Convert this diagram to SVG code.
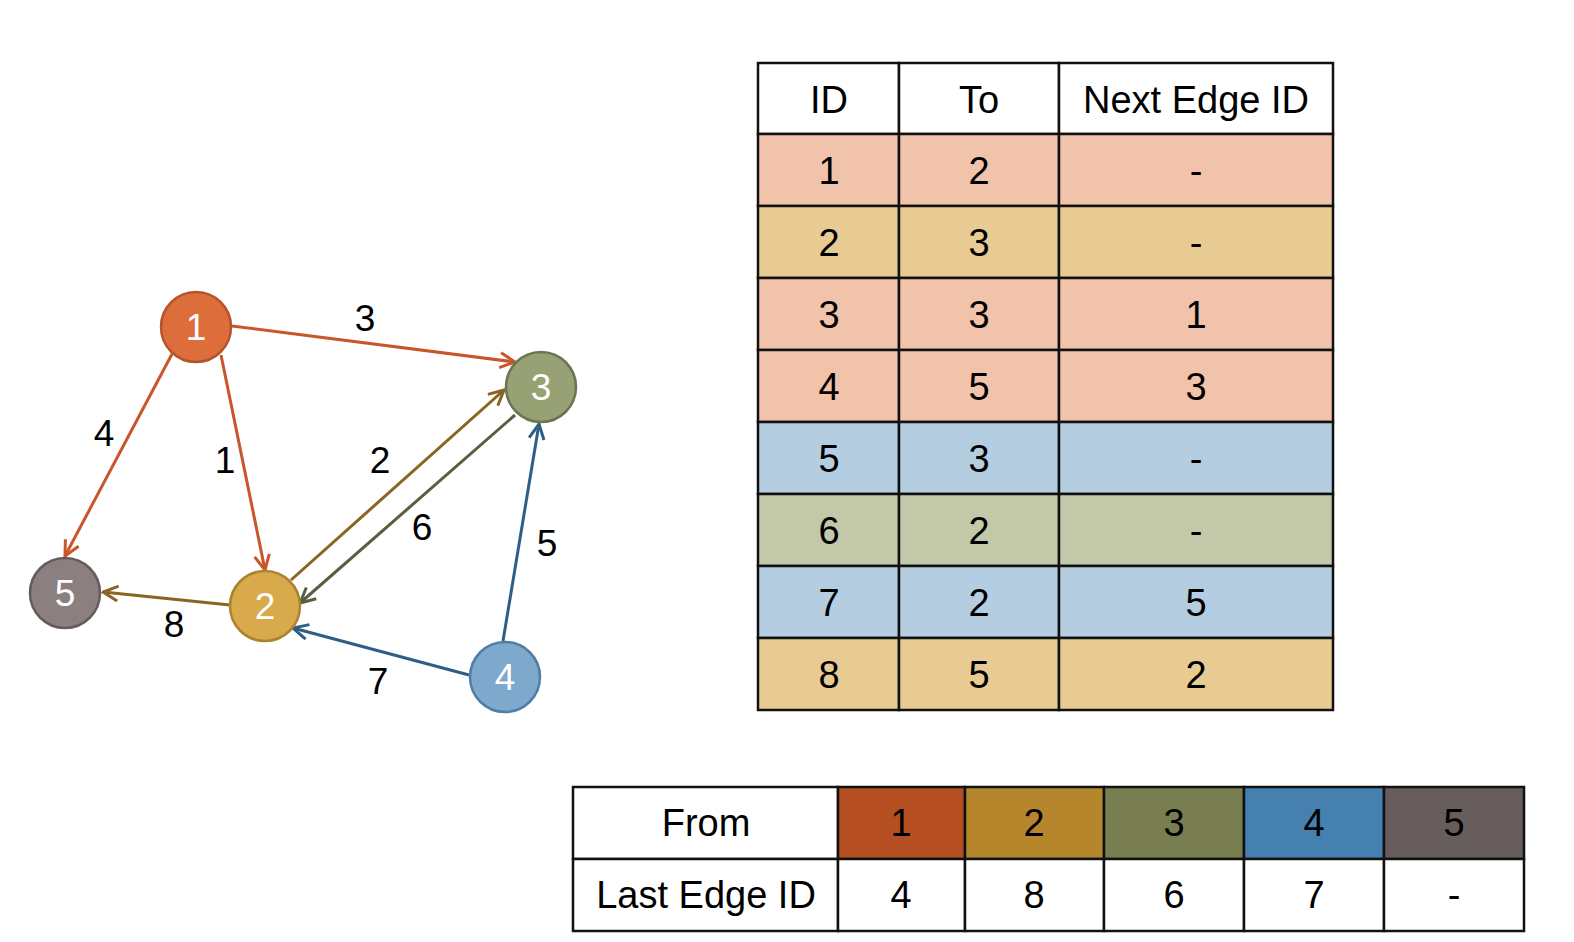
<svg xmlns="http://www.w3.org/2000/svg" width="1574" height="942" viewBox="0 0 1574 942">
<style>
text{font-family:"Liberation Sans",Arial,sans-serif;text-anchor:middle;dominant-baseline:central}
.lbl{font-size:37px;fill:#000}
.tl{font-size:38px;fill:#000}
.nl{font-size:37px;fill:#fff}
.cell{stroke:#111;stroke-width:2.5}
.edge{fill:none;stroke-width:3}
</style>
<defs>
<marker id="aO" viewBox="0 0 12 12" refX="11" refY="6" markerWidth="18" markerHeight="18" markerUnits="userSpaceOnUse" orient="auto"><path d="M1,1 L11,6 L1,11" fill="none" stroke="#C9562B" stroke-width="2"/></marker>
<marker id="aB" viewBox="0 0 12 12" refX="11" refY="6" markerWidth="18" markerHeight="18" markerUnits="userSpaceOnUse" orient="auto"><path d="M1,1 L11,6 L1,11" fill="none" stroke="#8A6422" stroke-width="2"/></marker>
<marker id="aG" viewBox="0 0 12 12" refX="11" refY="6" markerWidth="18" markerHeight="18" markerUnits="userSpaceOnUse" orient="auto"><path d="M1,1 L11,6 L1,11" fill="none" stroke="#585F40" stroke-width="2"/></marker>
<marker id="aL" viewBox="0 0 12 12" refX="11" refY="6" markerWidth="18" markerHeight="18" markerUnits="userSpaceOnUse" orient="auto"><path d="M1,1 L11,6 L1,11" fill="none" stroke="#2E5E88" stroke-width="2"/></marker>
</defs>
<rect width="1574" height="942" fill="#fff"/>

<g id="connectors">
<line class="edge" x1="232" y1="326" x2="515" y2="362" stroke="#C9562B" marker-end="url(#aO)"/>
<line class="edge" x1="172" y1="354" x2="65" y2="556" stroke="#C9562B" marker-end="url(#aO)"/>
<line class="edge" x1="221" y1="355" x2="265" y2="570" stroke="#C9562B" marker-end="url(#aO)"/>
<line class="edge" x1="291" y1="580" x2="504" y2="390" stroke="#8A6422" marker-end="url(#aB)"/>
<line class="edge" x1="515" y1="415" x2="300" y2="603" stroke="#585F40" marker-end="url(#aG)"/>
<line class="edge" x1="503" y1="641" x2="539" y2="424" stroke="#2E5E88" marker-end="url(#aL)"/>
<line class="edge" x1="469" y1="675" x2="293" y2="628" stroke="#2E5E88" marker-end="url(#aL)"/>
<line class="edge" x1="230" y1="605" x2="103" y2="592" stroke="#8A6422" marker-end="url(#aB)"/>
<text class="lbl" x="365" y="318">3</text>
<text class="lbl" x="104" y="433">4</text>
<text class="lbl" x="225" y="460">1</text>
<text class="lbl" x="380" y="460">2</text>
<text class="lbl" x="422" y="527">6</text>
<text class="lbl" x="547" y="543">5</text>
<text class="lbl" x="174" y="624">8</text>
<text class="lbl" x="378" y="681">7</text>
</g>

<g id="node1"><circle cx="196" cy="327" r="35" fill="#DD6E3C" stroke="#B5542C" stroke-width="2.5"/><text class="nl" x="196" y="327">1</text></g>
<g id="node2"><circle cx="265" cy="606" r="35" fill="#D8AA4C" stroke="#A8842E" stroke-width="2.5"/><text class="nl" x="265" y="606">2</text></g>
<g id="node3"><circle cx="541" cy="387" r="35" fill="#97A173" stroke="#6B7550" stroke-width="2.5"/><text class="nl" x="541" y="387">3</text></g>
<g id="node4"><circle cx="505" cy="677" r="35" fill="#7FA8CD" stroke="#4F7EA6" stroke-width="2.5"/><text class="nl" x="505" y="677">4</text></g>
<g id="node5"><circle cx="65" cy="593" r="35" fill="#8B7F80" stroke="#665B5C" stroke-width="2.5"/><text class="nl" x="65" y="593">5</text></g>

<g id="edge-table">
<rect class="cell" x="758" y="63" width="141" height="71" fill="#fff"/>
<rect class="cell" x="899" y="63" width="160" height="71" fill="#fff"/>
<rect class="cell" x="1059" y="63" width="274" height="71" fill="#fff"/>
<text class="tl" x="829" y="100">ID</text><text class="tl" x="979" y="100">To</text><text class="tl" x="1196" y="100">Next Edge ID</text>

<rect class="cell" x="758" y="134" width="141" height="72" fill="#F2C3AB"/><rect class="cell" x="899" y="134" width="160" height="72" fill="#F2C3AB"/><rect class="cell" x="1059" y="134" width="274" height="72" fill="#F2C3AB"/>
<text class="tl" x="829" y="171">1</text><text class="tl" x="979" y="171">2</text><text class="tl" x="1196" y="171">-</text>

<rect class="cell" x="758" y="206" width="141" height="72" fill="#E8CB93"/><rect class="cell" x="899" y="206" width="160" height="72" fill="#E8CB93"/><rect class="cell" x="1059" y="206" width="274" height="72" fill="#E8CB93"/>
<text class="tl" x="829" y="243">2</text><text class="tl" x="979" y="243">3</text><text class="tl" x="1196" y="243">-</text>

<rect class="cell" x="758" y="278" width="141" height="72" fill="#F2C3AB"/><rect class="cell" x="899" y="278" width="160" height="72" fill="#F2C3AB"/><rect class="cell" x="1059" y="278" width="274" height="72" fill="#F2C3AB"/>
<text class="tl" x="829" y="315">3</text><text class="tl" x="979" y="315">3</text><text class="tl" x="1196" y="315">1</text>

<rect class="cell" x="758" y="350" width="141" height="72" fill="#F2C3AB"/><rect class="cell" x="899" y="350" width="160" height="72" fill="#F2C3AB"/><rect class="cell" x="1059" y="350" width="274" height="72" fill="#F2C3AB"/>
<text class="tl" x="829" y="387">4</text><text class="tl" x="979" y="387">5</text><text class="tl" x="1196" y="387">3</text>

<rect class="cell" x="758" y="422" width="141" height="72" fill="#B5CDE1"/><rect class="cell" x="899" y="422" width="160" height="72" fill="#B5CDE1"/><rect class="cell" x="1059" y="422" width="274" height="72" fill="#B5CDE1"/>
<text class="tl" x="829" y="459">5</text><text class="tl" x="979" y="459">3</text><text class="tl" x="1196" y="459">-</text>

<rect class="cell" x="758" y="494" width="141" height="72" fill="#C3C8A9"/><rect class="cell" x="899" y="494" width="160" height="72" fill="#C3C8A9"/><rect class="cell" x="1059" y="494" width="274" height="72" fill="#C3C8A9"/>
<text class="tl" x="829" y="531">6</text><text class="tl" x="979" y="531">2</text><text class="tl" x="1196" y="531">-</text>

<rect class="cell" x="758" y="566" width="141" height="72" fill="#B5CDE1"/><rect class="cell" x="899" y="566" width="160" height="72" fill="#B5CDE1"/><rect class="cell" x="1059" y="566" width="274" height="72" fill="#B5CDE1"/>
<text class="tl" x="829" y="603">7</text><text class="tl" x="979" y="603">2</text><text class="tl" x="1196" y="603">5</text>

<rect class="cell" x="758" y="638" width="141" height="72" fill="#E8CB93"/><rect class="cell" x="899" y="638" width="160" height="72" fill="#E8CB93"/><rect class="cell" x="1059" y="638" width="274" height="72" fill="#E8CB93"/>
<text class="tl" x="829" y="675">8</text><text class="tl" x="979" y="675">5</text><text class="tl" x="1196" y="675">2</text>
</g>

<g id="head-table">
<rect class="cell" x="573" y="787" width="265" height="72" fill="#fff"/>
<rect class="cell" x="838" y="787" width="127" height="72" fill="#B54F21"/>
<rect class="cell" x="965" y="787" width="139" height="72" fill="#B5862B"/>
<rect class="cell" x="1104" y="787" width="140" height="72" fill="#787E50"/>
<rect class="cell" x="1244" y="787" width="140" height="72" fill="#4680B0"/>
<rect class="cell" x="1384" y="787" width="140" height="72" fill="#675D5D"/>
<text class="tl" x="706" y="823">From</text>
<text class="tl" x="901" y="823">1</text><text class="tl" x="1034" y="823">2</text><text class="tl" x="1174" y="823">3</text><text class="tl" x="1314" y="823">4</text><text class="tl" x="1454" y="823">5</text>
<rect class="cell" x="573" y="859" width="265" height="72" fill="#fff"/>
<rect class="cell" x="838" y="859" width="127" height="72" fill="#fff"/>
<rect class="cell" x="965" y="859" width="139" height="72" fill="#fff"/>
<rect class="cell" x="1104" y="859" width="140" height="72" fill="#fff"/>
<rect class="cell" x="1244" y="859" width="140" height="72" fill="#fff"/>
<rect class="cell" x="1384" y="859" width="140" height="72" fill="#fff"/>
<text class="tl" x="706" y="895">Last Edge ID</text>
<text class="tl" x="901" y="895">4</text><text class="tl" x="1034" y="895">8</text><text class="tl" x="1174" y="895">6</text><text class="tl" x="1314" y="895">7</text><text class="tl" x="1454" y="895">-</text>
</g>
</svg>
